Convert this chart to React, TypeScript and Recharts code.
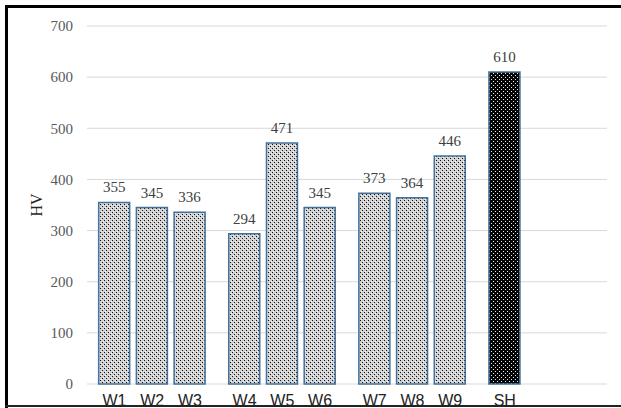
import React from 'react';
import { BarChart, Bar, XAxis, YAxis, CartesianGrid, Cell, LabelList } from 'recharts';

const categories = ['W1', 'W2', 'W3', 'W4', 'W5', 'W6', 'W7', 'W8', 'W9', 'SH'];
const groups = [0, 0, 0, 1, 1, 1, 2, 2, 2, 3];
const hardness = [355, 345, 336, 294, 471, 345, 373, 364, 446, 610];
const yTicks = [0, 100, 200, 300, 400, 500, 600, 700];

const GROUP_GAP = 0.45;
const data = categories.map((name, i) => ({
  name,
  pos: i + groups[i] * GROUP_GAP,
  hv: hardness[i],
  group: groups[i],
}));
const xTicks = data.map((d) => d.pos);
const nameOf = (v: number) => {
  const d = data.find((e) => Math.abs(e.pos - v) < 1e-6);
  return d ? d.name : '';
};

const SERIF = '"Liberation Serif", "Times New Roman", serif';
const SANS = '"Liberation Sans", Arial, sans-serif';

export default function App() {
  return (
    <div
      style={{
        position: 'absolute',
        left: 0,
        top: 0,
        width: 621,
        height: 408,
        background: '#ffffff',
        overflow: 'hidden',
      }}
    >
      <BarChart
        width={621}
        height={408}
        data={data}
        margin={{ top: 26, right: 14, bottom: 0, left: 0 }}
      >
        <defs>
          <pattern id="dotsLight" patternUnits="userSpaceOnUse" width="4" height="4">
            <rect x="0" y="0" width="4" height="4" fill="#d0d0d0" />
            <rect x="0" y="0" width="1" height="1" fill="#111111" />
            <rect x="2" y="2" width="1" height="1" fill="#111111" />
            <rect x="1" y="3" width="1" height="1" fill="#f4f4f4" />
            <rect x="3" y="1" width="1" height="1" fill="#f4f4f4" />
          </pattern>
          <pattern id="dotsDark" patternUnits="userSpaceOnUse" width="4" height="4">
            <rect x="0" y="0" width="4" height="4" fill="#050505" />
            <rect x="1" y="1" width="1" height="1" fill="#e8e8e8" />
            <rect x="3" y="3" width="1" height="1" fill="#e8e8e8" />
          </pattern>
        </defs>
        <CartesianGrid vertical={false} stroke="#d9d9d9" strokeWidth={1} />
        <XAxis
          type="number"
          dataKey="pos"
          domain={[-0.73, 13.06]}
          ticks={xTicks}
          tickFormatter={nameOf}
          allowDecimals
          interval={0}
          axisLine={false}
          tickLine={false}
          tickSize={0}
          tickMargin={11}
          height={24}
          tick={{ fontFamily: SANS, fontSize: 16, fill: '#222222' }}
        />
        <YAxis
          type="number"
          domain={[0, 700]}
          ticks={yTicks}
          interval={0}
          width={87}
          axisLine={false}
          tickLine={false}
          tickSize={0}
          tickMargin={14}
          tick={{ fontFamily: SERIF, fontSize: 15, fill: '#595959' }}
          label={{
            value: 'HV',
            angle: -90,
            position: 'center',
            dx: -7,
            style: { fontFamily: SERIF, fontSize: 16, fill: '#262626' },
          }}
        />
        <Bar
          dataKey="hv"
          barSize={31}
          stroke="#41719c"
          strokeWidth={1.5}
          isAnimationActive={false}
        >
          {data.map((d) => (
            <Cell key={d.name} fill={d.group === 3 ? 'url(#dotsDark)' : 'url(#dotsLight)'} />
          ))}
          <LabelList
            dataKey="hv"
            position="top"
            offset={10}
            style={{ fontFamily: SERIF, fontSize: 15, fill: '#404040' }}
          />
        </Bar>
      </BarChart>
      <div
        style={{
          position: 'absolute',
          left: 5,
          top: 5,
          right: -10,
          height: 0,
          borderTop: '3px solid #000',
        }}
      />
      <div
        style={{
          position: 'absolute',
          left: 5,
          top: 5,
          width: 0,
          bottom: -10,
          borderLeft: '3px solid #000',
        }}
      />
      <div
        style={{
          position: 'absolute',
          left: 5,
          top: 405,
          right: -10,
          height: 0,
          borderTop: '2px solid #222',
        }}
      />
    </div>
  );
}
